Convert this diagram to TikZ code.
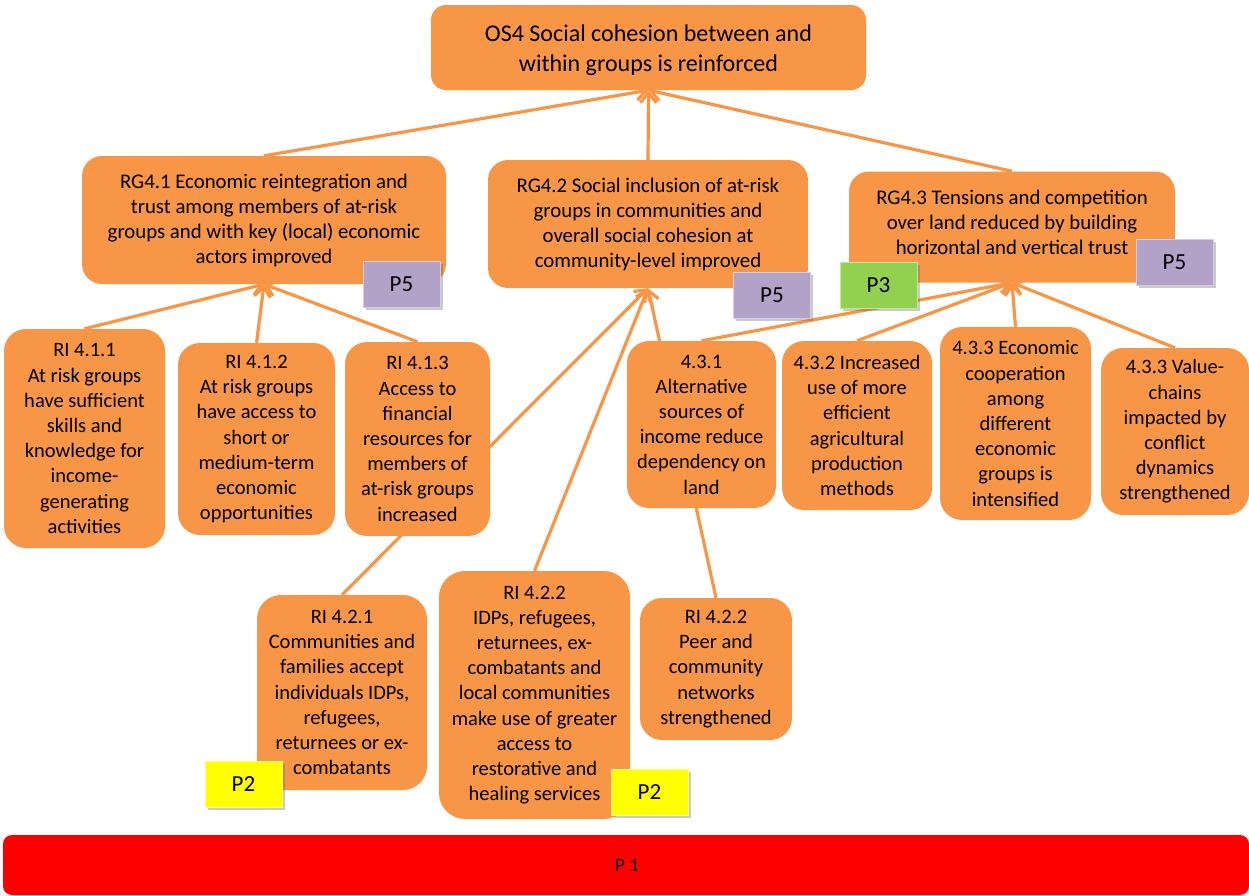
\documentclass[tikz,border=0pt]{standalone}
\usepackage{fontspec}
\setmainfont{Carlito}
\usetikzlibrary{arrows.meta,shadows}
\definecolor{boxor}{HTML}{F79646}
\definecolor{tagpurple}{HTML}{B3A2C7}
\definecolor{taggreen}{HTML}{92D050}
\definecolor{tagyellow}{HTML}{FFFF00}
\definecolor{barred}{HTML}{FF0000}
\pgfdeclarelayer{bg}
\pgfsetlayers{bg,main}
\tikzset{
  obox/.style={fill=boxor, draw=none, rounded corners=#1, align=center, inner sep=0pt, text=black},
  obox/.default=20pt,
  osfont/.style={font=\fontsize{24}{30}\selectfont},
  rgfont/.style={font=\fontsize{20.8}{25}\selectfont},
  rifont/.style={font=\fontsize{20.5}{25.2}\selectfont},
  tag/.style={fill=#1, draw=#1!55!white, line width=1pt, minimum width=77pt, minimum height=46pt, inner sep=0pt,
     font=\fontsize{23}{27}\selectfont,
     drop shadow={shadow xshift=2.5pt, shadow yshift=-2.5pt, opacity=0.35, fill=black!60}},
  conn/.style={draw=boxor, line width=3.2pt, -{Straight Barb[length=10pt,width=16pt]}},
}
\begin{document}
\begin{tikzpicture}[x=1pt,y=-1pt]
\useasboundingbox (0,0) rectangle (1249,895);
% top
\node[obox=15pt, osfont, minimum width=435pt, minimum height=85pt] (os) at (648.5,47.5)
  {\raisebox{-3pt}[\height][\depth]{\begin{tabular}{@{}c@{}}OS4 Social cohesion between and\\within groups is reinforced\end{tabular}}};
% result groups
\node[obox=20pt, rgfont, minimum width=364pt, minimum height=128pt] (rg1) at (264,220)
  {RG4.1 Economic reintegration and\\trust among members of at-risk\\groups and with key (local) economic\\actors improved};
\node[obox=20pt, rgfont, minimum width=320pt, minimum height=128pt] (rg2) at (648,224)
  {RG4.2 Social inclusion of at-risk\\groups in communities and\\overall social cohesion at\\community-level improved};
\node[obox=20pt, rgfont, minimum width=326pt, minimum height=111pt] (rg3) at (1012,227)
  {\raisebox{3pt}[\height][\depth]{\begin{tabular}{@{}c@{}}RG4.3 Tensions and competition\\over land reduced by building\\horizontal and vertical trust\end{tabular}}};
% results row 1
\node[obox=22pt, rifont, minimum width=161pt, minimum height=219pt] (ri411) at (84.5,438.5)
  {RI 4.1.1\\At risk groups\\have sufficient\\skills and\\knowledge for\\income-\\generating\\activities};
\node[obox=22pt, rifont, minimum width=157pt, minimum height=192pt] (ri412) at (256.5,439)
  {RI 4.1.2\\At risk groups\\have access to\\short or\\medium-term\\economic\\opportunities};
\node[obox=22pt, rifont, minimum width=145pt, minimum height=194pt] (ri413) at (417.5,439)
  {RI 4.1.3\\Access to\\financial\\resources for\\members of\\at-risk groups\\increased};
\node[obox=22pt, rifont, minimum width=149pt, minimum height=167pt] (ri431) at (701.5,424.5)
  {4.3.1\\Alternative\\sources of\\income reduce\\dependency on\\land};
\node[obox=22pt, rifont, minimum width=150pt, minimum height=169pt] (ri432) at (857,425.5)
  {4.3.2 Increased\\use of more\\efficient\\agricultural\\production\\methods};
\node[obox=22pt, rifont, minimum width=151pt, minimum height=193pt] (ri433) at (1015.5,423.5)
  {4.3.3 Economic\\cooperation\\among\\different\\economic\\groups is\\intensified};
\node[obox=22pt, rifont, minimum width=148pt, minimum height=167pt] (ri434) at (1175,431.5)
  {4.3.3 Value-\\chains\\impacted by\\conflict\\dynamics\\strengthened};
% results row 2
\node[obox=24pt, rifont, minimum width=170pt, minimum height=195pt] (ri421) at (342,692.5)
  {RI 4.2.1\\Communities and\\families accept\\individuals IDPs,\\refugees,\\returnees or ex-\\combatants};
\node[obox=26pt, rifont, minimum width=191pt, minimum height=248pt] (ri422) at (534.5,695)
  {RI 4.2.2\\IDPs, refugees,\\returnees, ex-\\combatants and\\local communities\\make use of greater\\access to\\restorative and\\healing services};
\node[obox=22pt, rifont, minimum width=152pt, minimum height=142pt] (ri422b) at (716,669)
  {RI 4.2.2\\Peer and\\community\\networks\\strengthened};
% bottom bar
\node[fill=barred, rounded corners=9pt, minimum width=1246pt, minimum height=60pt, inner sep=0pt] (p1) at (626,865) {};
\node[font=\fontsize{19}{22}\selectfont, inner sep=0pt] (p1t) at (627,865) {P 1};
% tags
\node[tag=tagpurple] (p5a) at (401.5,284) {P5};
\node[tag=tagpurple] (p5b) at (772,295) {P5};
\node[tag=taggreen] (p3) at (878.5,285) {P3};
\node[tag=tagpurple] (p5c) at (1174.5,262.5) {P5};
\node[tag=tagyellow] (p2a) at (243.5,784.5) {P2};
\node[tag=tagyellow] (p2b) at (649.5,792.5) {P2};
% connectors
\begin{pgfonlayer}{bg}
\draw[conn] (rg1.north) -- (os.south);
\draw[conn] (rg2.north) -- (os.south);
\draw[conn] (rg3.north) -- (os.south);
\draw[conn] (ri411.north) -- (rg1.south);
\draw[conn] (ri412.north) -- (rg1.south);
\draw[conn] (ri413.north) -- (rg1.south);
\draw[conn] (ri421.north) -- (rg2.south);
\draw[conn] (ri422.north) -- (rg2.south);
\draw[conn] (ri422b.north) -- (rg2.south);
\draw[conn] (ri431.north) -- (rg3.south);
\draw[conn] (ri432.north) -- (rg3.south);
\draw[conn] (ri433.north) -- (rg3.south);
\draw[conn] (ri434.north) -- (rg3.south);
\end{pgfonlayer}
\end{tikzpicture}
\end{document}
